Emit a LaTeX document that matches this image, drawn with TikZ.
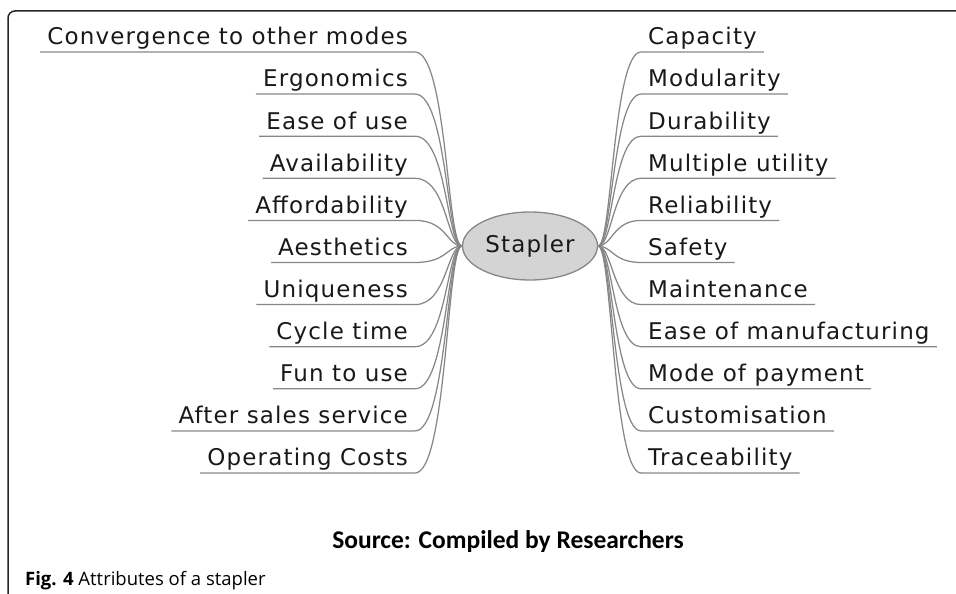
\documentclass[tikz,border=0pt]{standalone}
\usepackage{fontspec}
\setmainfont{DejaVu Sans}[LetterSpace=5]
\newfontfamily\sourcefont{Carlito}
\newfontfamily\captionfont{Open Sans}
\usepackage{xcolor}
\usetikzlibrary{shapes.geometric, positioning}
\definecolor{branchgray}{HTML}{878787}
\definecolor{rootfill}{HTML}{D4D4D4}
\definecolor{framegray}{HTML}{262626}
\tikzstyle{root}      = [ellipse, draw=branchgray, fill=rootfill, line width=1.3bp, minimum width=135bp, minimum height=68bp, inner sep=0pt, text=black!90, font=\fontsize{23bp}{27bp}\selectfont]
\tikzstyle{leftleaf}  = [anchor=south east, inner xsep=7bp, inner ysep=7bp, text depth=0pt, text=black!90, font=\fontsize{23bp}{27bp}\selectfont]
\tikzstyle{rightleaf} = [leftleaf, anchor=south west]
\tikzstyle{branch}    = [draw=branchgray, line width=1.25bp]

\begin{document}
\begin{tikzpicture}[x=1bp, y=-1bp]
    \useasboundingbox (0,0) rectangle (956,594);
    \draw [framegray, line width=1.5bp, rounded corners=7bp] (8,594) -- (8,11) -- (956,11);

    \node (stapler) [root] at (530,246) {Stapler};

    % left side
    \node (conv)   [leftleaf] at (415,52) {Convergence to other modes};
    \node (ergo)   [below=42.1bp of conv.south east, leftleaf] {Ergonomics};
    \node (ease)   [below=42.1bp of ergo.south east, leftleaf] {Ease of use};
    \node (avail)  [below=42.1bp of ease.south east, leftleaf] {Availability};
    \node (afford) [below=42.1bp of avail.south east, leftleaf] {Affordability};
    \node (aesth)  [below=42.1bp of afford.south east, leftleaf] {Aesthetics};
    \node (uniq)   [below=42.1bp of aesth.south east, leftleaf] {Uniqueness};
    \node (cycle)  [below=42.1bp of uniq.south east, leftleaf] {Cycle time};
    \node (fun)    [below=42.1bp of cycle.south east, leftleaf] {Fun to use};
    \node (after)  [below=42.1bp of fun.south east, leftleaf] {After sales service};
    \node (opcost) [below=42.1bp of after.south east, leftleaf] {Operating Costs};

    % right side
    \node (capac)  [rightleaf] at (641,52) {Capacity};
    \node (modul)  [below=42.1bp of capac.south west, rightleaf] {Modularity};
    \node (dura)   [below=42.1bp of modul.south west, rightleaf] {Durability};
    \node (multi)  [below=42.1bp of dura.south west, rightleaf] {Multiple utility};
    \node (relia)  [below=42.1bp of multi.south west, rightleaf] {Reliability};
    \node (safety) [below=42.1bp of relia.south west, rightleaf] {Safety};
    \node (maint)  [below=42.1bp of safety.south west, rightleaf] {Maintenance};
    \node (manuf)  [below=42.1bp of maint.south west, rightleaf] {Ease of manufacturing};
    \node (mode)   [below=42.1bp of manuf.south west, rightleaf] {Mode of payment};
    \node (custom) [below=42.1bp of mode.south west, rightleaf] {Customisation};
    \node (trace)  [below=42.1bp of custom.south west, rightleaf] {Traceability};

    \draw [branch] (conv.south west) -- (conv.south east) .. controls +(32,0) and +(-15,0) .. (stapler.west);
    \draw [branch] (ergo.south west) -- (ergo.south east) .. controls +(32,0) and +(-15,0) .. (stapler.west);
    \draw [branch] (ease.south west) -- (ease.south east) .. controls +(32,0) and +(-15,0) .. (stapler.west);
    \draw [branch] (avail.south west) -- (avail.south east) .. controls +(32,0) and +(-15,0) .. (stapler.west);
    \draw [branch] (afford.south west) -- (afford.south east) .. controls +(32,0) and +(-15,0) .. (stapler.west);
    \draw [branch] (aesth.south west) -- (aesth.south east) .. controls +(32,0) and +(-15,0) .. (stapler.west);
    \draw [branch] (uniq.south west) -- (uniq.south east) .. controls +(32,0) and +(-15,0) .. (stapler.west);
    \draw [branch] (cycle.south west) -- (cycle.south east) .. controls +(32,0) and +(-15,0) .. (stapler.west);
    \draw [branch] (fun.south west) -- (fun.south east) .. controls +(32,0) and +(-15,0) .. (stapler.west);
    \draw [branch] (after.south west) -- (after.south east) .. controls +(32,0) and +(-15,0) .. (stapler.west);
    \draw [branch] (opcost.south west) -- (opcost.south east) .. controls +(32,0) and +(-15,0) .. (stapler.west);

    \draw [branch] (stapler.east) .. controls +(14,0) and +(-28,0) .. (capac.south west) -- (capac.south east);
    \draw [branch] (stapler.east) .. controls +(14,0) and +(-28,0) .. (modul.south west) -- (modul.south east);
    \draw [branch] (stapler.east) .. controls +(14,0) and +(-28,0) .. (dura.south west) -- (dura.south east);
    \draw [branch] (stapler.east) .. controls +(14,0) and +(-28,0) .. (multi.south west) -- (multi.south east);
    \draw [branch] (stapler.east) .. controls +(14,0) and +(-28,0) .. (relia.south west) -- (relia.south east);
    \draw [branch] (stapler.east) .. controls +(14,0) and +(-28,0) .. (safety.south west) -- (safety.south east);
    \draw [branch] (stapler.east) .. controls +(14,0) and +(-28,0) .. (maint.south west) -- (maint.south east);
    \draw [branch] (stapler.east) .. controls +(14,0) and +(-28,0) .. (manuf.south west) -- (manuf.south east);
    \draw [branch] (stapler.east) .. controls +(14,0) and +(-28,0) .. (mode.south west) -- (mode.south east);
    \draw [branch] (stapler.east) .. controls +(14,0) and +(-28,0) .. (custom.south west) -- (custom.south east);
    \draw [branch] (stapler.east) .. controls +(14,0) and +(-28,0) .. (trace.south west) -- (trace.south east);

    \node (source) [anchor=base, inner sep=0pt, font=\sourcefont\bfseries\fontsize{25.5bp}{30bp}\selectfont] at (508,548) {Source: Compiled by Researchers};
    \node (caption) [anchor=base west, inner sep=0pt, font=\captionfont\fontsize{18.5bp}{22bp}\selectfont] at (25,585) {\textbf{Fig. 4} Attributes of a stapler};
\end{tikzpicture}
\end{document}
